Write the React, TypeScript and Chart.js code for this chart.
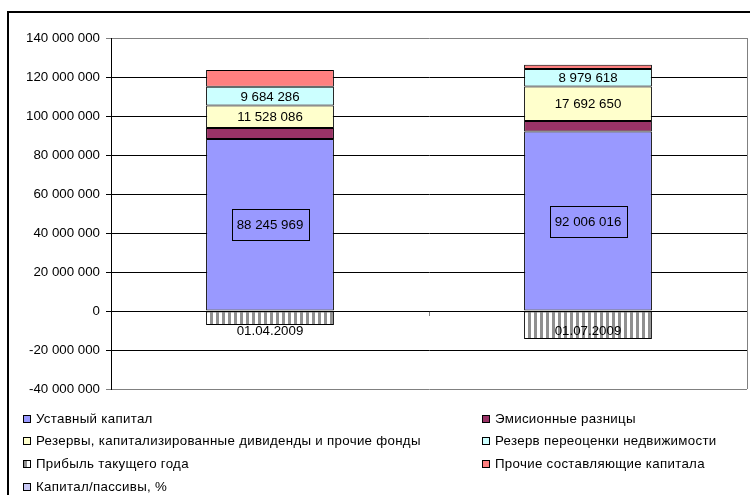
import React, { useEffect, useRef } from 'react';
import { Chart, registerables } from 'chart.js';

Chart.register(...registerables);

const categories = ['01.04.2009', '01.07.2009'];
const authorizedCapital = [88245969, 92006016];
const shareSurplus = [5600000, 5400000];
const reserves = [11528086, 17692650];
const revaluationReserve = [9684286, 8979618];
const currentYearProfit = [-7200000, -14400000];
const otherCapital = [8500000, 2200000];
const capitalRatio: number[] = [];

const seriesNames = [
  'Уставный капитал',
  'Эмисионные разницы',
  'Резервы, капитализированные дивиденды и прочие фонды',
  'Резерв переоценки недвижимости',
  'Прибыль такущего года',
  'Прочие составляющие капитала',
  'Капитал/пассивы, %',
];
const seriesColors = ['#9999FF', '#993366', '#FFFFCC', '#CCFFFF', 'PATTERN', '#FF8080', '#C8C8F4'];

const yMin = -40000000;
const yMax = 140000000;
const yStep = 20000000;

const FONT = "'Liberation Sans', Arial, sans-serif";
const FS = 13.3;

function fmt(v: number): string {
  const s = Math.abs(Math.round(v)).toString().replace(/\B(?=(\d{3})+(?!\d))/g, ' ');
  return (v < 0 ? '-' : '') + s;
}

function makeStripes(): CanvasPattern | string {
  const c = document.createElement('canvas');
  c.width = 6;
  c.height = 6;
  const g = c.getContext('2d');
  if (!g) return '#999999';
  g.fillStyle = '#FFFFFF';
  g.fillRect(0, 0, 6, 6);
  g.fillStyle = '#909090';
  g.fillRect(0, 0, 3, 6);
  const p = g.createPattern(c, 'repeat');
  return p || '#999999';
}

export default function App() {
  const ref = useRef<HTMLCanvasElement | null>(null);

  useEffect(() => {
    const canvas = ref.current;
    if (!canvas) return;
    document.body.style.overflow = 'hidden';
    const stripes = makeStripes();
    const colorOf = (i: number) => (seriesColors[i] === 'PATTERN' ? stripes : seriesColors[i]);
    const seriesData = [
      authorizedCapital,
      shareSurplus,
      reserves,
      revaluationReserve,
      currentYearProfit,
      otherCapital,
      capitalRatio,
    ];

    const labelPlugin = {
      id: 'valueLabels',
      afterDatasetsDraw(chart: any) {
        const ctx = chart.ctx;
        ctx.save();
        ctx.font = `${FS}px ${FONT}`;
        ctx.fillStyle = '#000';
        ctx.textAlign = 'center';
        ctx.textBaseline = 'middle';
        [0, 2, 3].forEach((di) => {
          const meta = chart.getDatasetMeta(di);
          meta.data.forEach((el: any, idx: number) => {
            const v = chart.data.datasets[di].data[idx];
            if (v == null) return;
            const x = el.x;
            const y = (el.y + el.base) / 2;
            const txt = fmt(v as number);
            if (di === 0) {
              const w = ctx.measureText(txt).width;
              ctx.strokeStyle = '#000';
              ctx.lineWidth = 1;
              const bx = Math.round(x - w / 2 - 5) + 0.5;
              const by = Math.round(y - 15.5) + 0.5;
              ctx.strokeRect(bx, by, Math.round(w + 10), 31);
            }
            ctx.fillText(txt, x, y + 1);
          });
        });
        ctx.restore();
      },
    };

    const framePlugin = {
      id: 'plotFrame',
      afterDraw(chart: any) {
        const { ctx, chartArea } = chart;
        ctx.save();
        ctx.strokeStyle = '#808080';
        ctx.lineWidth = 1;
        ctx.beginPath();
        ctx.moveTo(Math.round(chartArea.right) + 0.5, chartArea.top);
        ctx.lineTo(Math.round(chartArea.right) + 0.5, chartArea.bottom);
        ctx.stroke();
        ctx.restore();

        // legend in two columns
        ctx.save();
        ctx.font = `${FS}px ${FONT}`;
        (ctx as any).letterSpacing = '0.3px';
        ctx.textBaseline = 'middle';
        ctx.textAlign = 'left';
        const colX = [23, 482];
        const rowY = [419, 441, 464, 487];
        seriesNames.forEach((name, i) => {
          const x = colX[i % 2];
          const y = rowY[Math.floor(i / 2)];
          ctx.fillStyle = colorOf(i);
          ctx.fillRect(x, y - 4, 8, 8);
          ctx.strokeStyle = '#000';
          ctx.lineWidth = 1;
          ctx.strokeRect(x + 0.5, y - 3.5, 7, 7);
          ctx.fillStyle = '#000';
          ctx.fillText(name, x + 13, y);
        });
        ctx.restore();
      },
    };

    const chart = new Chart(canvas, {
      type: 'bar',
      data: {
        labels: categories,
        datasets: seriesData.map((d, i) => ({
          label: seriesNames[i],
          data: d,
          backgroundColor: colorOf(i),
          borderColor: '#000',
          borderWidth: 1,
          borderSkipped: false,
          categoryPercentage: 1,
          barPercentage: 0.402,
        })) as any,
      },
      options: {
        animation: false,
        responsive: false,
        maintainAspectRatio: false,
        layout: { padding: { top: 38, right: 3, bottom: 106, left: 0 } },
        plugins: {
          legend: { display: false },
          tooltip: { enabled: false },
          title: { display: false },
        },
        scales: {
          x: {
            type: 'category',
            stacked: true,
            position: { y: 0 } as any,
            grid: {
              drawOnChartArea: false,
              offset: true,
              tickLength: 4,
              color: '#808080',
            },
            border: { display: true, color: '#000', width: 1 },
            ticks: {
              z: 1,
              color: '#000',
              font: { family: FONT, size: FS },
              padding: 8,
              maxRotation: 0,
              autoSkip: false,
            },
          },
          y: {
            stacked: true,
            min: yMin,
            max: yMax,
            ticks: {
              stepSize: yStep,
              color: '#000',
              font: { family: FONT, size: FS },
              padding: 6,
              callback: (v: any) => fmt(Number(v)),
            },
            grid: {
              tickLength: 5,
              lineWidth: 1,
              color: (c: any) =>
                c.tick && (c.tick.value === yMax || c.tick.value === yMin) ? '#808080' : '#000',
            },
            border: { display: true, color: '#000', width: 1 },
            afterFit: (s: any) => {
              s.width = 111;
            },
          },
        },
      },
      plugins: [labelPlugin, framePlugin],
    });

    return () => {
      chart.destroy();
    };
  }, []);

  return (
    <>
      <canvas
        ref={ref}
        width={750}
        height={495}
        style={{ position: 'fixed', left: 0, top: 0, width: 750, height: 495 }}
      />
      <div
        style={{
          position: 'fixed',
          left: 7,
          top: 11,
          width: 800,
          height: 600,
          border: '2px solid #000',
          pointerEvents: 'none',
        }}
      />
    </>
  );
}
